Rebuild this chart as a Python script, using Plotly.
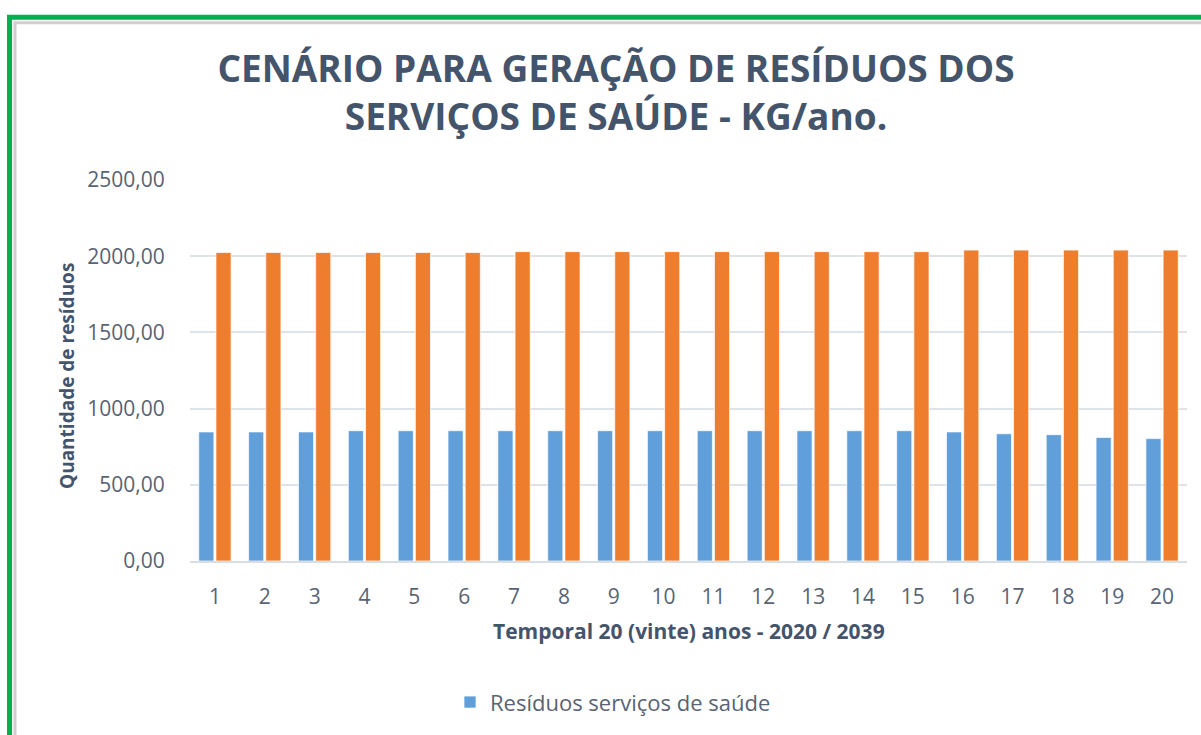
import plotly.graph_objects as go

categories = [str(i) for i in range(1, 21)]
residuos_saude = [847, 847, 847, 855, 855, 855, 855, 855, 855, 855,
                  855, 855, 855, 855, 855, 847, 835, 829, 811, 803]
residuos_total = [2024, 2024, 2024, 2024, 2024, 2024, 2030, 2030, 2030, 2030,
                  2030, 2030, 2030, 2030, 2030, 2040, 2040, 2040, 2040, 2040]
y_ticks = [0, 500, 1000, 1500, 2000, 2500]

W, H = 1201, 735
L, R, T, B = 190, 1187, 180, 563

def px_x(x):
    return (x - L) / (R - L)

def px_y(y):
    return (B - y) / (B - T)

fig = go.Figure()
fig.add_trace(go.Bar(
    x=categories, y=residuos_saude, name="Resíduos serviços de saúde",
    marker=dict(color="#619FDA", line=dict(color="rgba(255,255,255,0.7)", width=1)),
))
fig.add_trace(go.Bar(
    x=categories, y=residuos_total, name="Total", showlegend=False,
    marker=dict(color="#EF7D2E", line=dict(color="rgba(255,255,255,0.7)", width=1)),
))

font_main = "Open Sans"
fig.update_layout(
    width=W, height=H,
    margin=dict(l=L, r=W - R, t=T, b=H - B, pad=0),
    paper_bgcolor="white", plot_bgcolor="white",
    separators=",.",
    barmode="group", bargap=0.31, bargroupgap=0.12,
    font=dict(family=font_main, color="#586374"),
    title=dict(
        text="CENÁRIO PARA GERAÇÃO DE RESÍDUOS DOS<br>SERVIÇOS DE SAÚDE - KG/ano.",
        x=616 / W, xanchor="center", xref="container",
        y=1 - 82 / H, yanchor="middle", yref="container",
        font=dict(family=font_main, size=37, color="#44546A", weight="bold"),
    ),
    xaxis=dict(
        type="category", showgrid=False, showline=True, linecolor="#D9DEE5", linewidth=2,
        ticks="outside", ticklen=16, tickcolor="rgba(0,0,0,0)",
        tickfont=dict(size=21, color="#586374"),
    ),
    yaxis=dict(
        range=[0, 2500], tickvals=y_ticks, tickformat=".2f",
        showgrid=True, gridcolor="#DEE3EA", gridwidth=1.5,
        zeroline=False, showline=False,
        ticks="outside", ticklen=20, tickcolor="rgba(0,0,0,0)",
        tickfont=dict(size=21, color="#586374"),
    ),
    showlegend=True,
    legend=dict(
        x=px_x(450), y=px_y(705), xanchor="left", yanchor="middle",
        orientation="h", font=dict(size=22, color="#586374"),
        bgcolor="rgba(0,0,0,0)", itemwidth=30,
    ),
    annotations=[
        dict(text="<b>Quantidade de resíduos</b>", x=px_x(67), y=px_y(377),
             xref="paper", yref="paper", showarrow=False, textangle=-90,
             xanchor="center", yanchor="middle",
             font=dict(size=19, color="#44546A")),
        dict(text="<b>Temporal 20 (vinte) anos - 2020 / 2039</b>", x=px_x(689), y=px_y(633),
             xref="paper", yref="paper", showarrow=False,
             xanchor="center", yanchor="middle",
             font=dict(size=21, color="#44546A")),
    ],
    shapes=[
        dict(type="rect", xref="paper", yref="paper",
             x0=px_x(15), y0=px_y(22), x1=px_x(1215), y1=px_y(750),
             line=dict(color="#CFCFCF", width=3), layer="above"),
        dict(type="rect", xref="paper", yref="paper",
             x0=px_x(9.5), y0=px_y(16.5), x1=px_x(1215), y1=px_y(750),
             line=dict(color="#00B04F", width=5), layer="above"),
    ],
)

fig.write_html(
    "out.html",
    config={"displayModeBar": False},
    post_script="document.body.style.margin='0';document.body.style.overflow='hidden';",
)
